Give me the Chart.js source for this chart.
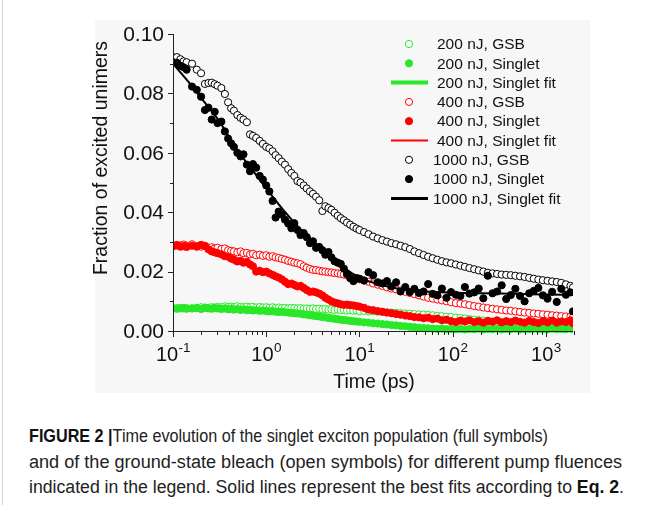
<!DOCTYPE html>
<html>
<head>
<meta charset="utf-8">
<script src="https://cdn.jsdelivr.net/npm/chart.js@4.4.0/dist/chart.umd.min.js"></script>
<style>
  html, body { margin: 0; padding: 0; background: #fff; }
  body { width: 654px; height: 505px; position: relative; overflow: hidden; }
  #frame { position: absolute; left: 2px; top: 0; width: 1px; height: 505px; background: #d4d4d4; }
  #panel { position: absolute; left: 95px; top: 20px; width: 495px; height: 373px; background: #f7f7f7; }
  #wrap { position: absolute; left: 0; top: 0; width: 654px; height: 400px; }
  #caption { position: absolute; left: 29px; top: 424px; font-family: Arial, "Liberation Sans", sans-serif;
             font-size: 18px; line-height: 25.5px; color: #222; white-space: nowrap; }
  #caption div { transform-origin: 0 50%; width: max-content; }
  #caption b { font-weight: bold; color: #111; }
</style>
</head>
<body>
<div id="frame"></div>
<div id="panel"></div>
<div id="wrap"><canvas id="chart" width="654" height="400"></canvas></div>
<div id="caption">
  <div data-w="519"><b>FIGURE 2 |</b>Time evolution of the singlet exciton population (full symbols)</div>
  <div data-w="593">and of the ground-state bleach (open symbols) for different pump fluences</div>
  <div data-w="595">indicated in the legend. Solid lines represent the best fits according to <b>Eq. 2</b>.</div>
</div>
<script>
'use strict'

// pump-probe delays (ps)
const delays = [
  0.10, 0.11, 0.12, 0.13, 0.14, 0.16, 0.18, 0.20, 0.22, 0.24, 0.26, 0.28, 0.30, 0.33, 0.36, 0.39, 0.42, 0.45, 0.49, 0.53, 0.57, 0.62, 0.67, 0.72, 0.78, 0.85, 0.92,
  1.0, 1.08, 1.17, 1.26, 1.36, 1.47, 1.59, 1.72, 1.86, 2.0, 2.16, 2.33, 2.52, 2.72, 2.94, 3.17, 3.42, 3.7, 4.0, 4.3, 4.65, 5.0, 5.4, 5.85, 6.3, 6.8, 7.35, 7.95, 8.6, 9.3,
  10, 11.2, 12.5, 14, 15.7, 17.6, 19.7, 22, 24.7, 27.6, 31, 34.7, 38.8, 43.5, 48.7, 54.5, 61, 68.4, 76.6, 85.8,
  96, 108, 121, 135, 151, 170, 190, 213, 238, 267, 299, 335, 375, 420, 470, 527, 590, 661, 740, 829, 928, 1040, 1165, 1305, 1460, 1635, 1830, 1950
];

// 200 nJ
const gsb200 = [
  0.0076, 0.0077, 0.0076, 0.0078, 0.0077, 0.0076, 0.0078, 0.0080, 0.0079, 0.0078, 0.0080, 0.0079, 0.0081, 0.0080, 0.0083, 0.0081, 0.0082, 0.0080, 0.0083, 0.0081, 0.0080, 0.0082, 0.0080, 0.0081, 0.0079, 0.0081, 0.0079,
  0.0080, 0.0078, 0.0080, 0.0078, 0.0079, 0.0077, 0.0078, 0.0076, 0.0078, 0.0077, 0.0076, 0.0077, 0.0075, 0.0076, 0.0075, 0.0076, 0.0074, 0.0075, 0.0073, 0.0074, 0.0072, 0.0073, 0.0071, 0.0072, 0.0070, 0.0071, 0.0069, 0.0070, 0.0068, 0.0069,
  0.0067, 0.0068, 0.0066, 0.0066, 0.0065, 0.0064, 0.0063, 0.0062, 0.0061, 0.0060, 0.0059, 0.0058, 0.0057, 0.0056, 0.0055, 0.0054, 0.0053, 0.0051, 0.0050, 0.0048,
  0.0047, 0.0045, 0.0044, 0.0042, 0.0040, 0.0038, 0.0037, 0.0035, 0.0034, 0.0032, 0.0031, 0.0029, 0.0028, 0.0027, 0.0025, 0.0024, 0.0023, 0.0022, 0.0021, 0.0020, 0.0019, 0.0019, 0.0018, 0.0017, 0.0017, 0.0016, 0.0015, 0.0015
];
const singlet200 = [
  0.0076, 0.0075, 0.0077, 0.0076, 0.0075, 0.0076, 0.0077, 0.0074, 0.0078, 0.0076, 0.0075, 0.0077, 0.0076, 0.0074, 0.0076, 0.0073, 0.0075, 0.0072, 0.0074, 0.0071, 0.0073, 0.0070, 0.0071, 0.0069, 0.0070, 0.0068, 0.0069,
  0.0067, 0.0066, 0.0067, 0.0065, 0.0064, 0.0065, 0.0063, 0.0062, 0.0061, 0.0060, 0.0059, 0.0058, 0.0056, 0.0055, 0.0053, 0.0052, 0.0050, 0.0049, 0.0047, 0.0046, 0.0044, 0.0043, 0.0041, 0.0040, 0.0038, 0.0037, 0.0036, 0.0034, 0.0033, 0.0032,
  0.0031, 0.0029, 0.0028, 0.0026, 0.0025, 0.0023, 0.0022, 0.0020, 0.0019, 0.0017, 0.0016, 0.0014, 0.0013, 0.0011, 0.0010, 0.0009, 0.0008, 0.0007, 0.0008, 0.0006,
  0.0007, 0.0006, 0.0007, 0.0005, 0.0007, 0.0006, 0.0008, 0.0005, 0.0007, 0.0006, 0.0008, 0.0005, 0.0007, 0.0006, 0.0008, 0.0005, 0.0007, 0.0006, 0.0008, 0.0006, 0.0007, 0.0005, 0.0008, 0.0006, 0.0007, 0.0006, 0.0008, 0.0007
];

// 400 nJ
const gsb400 = [
  0.0288, 0.0290, 0.0288, 0.0291, 0.0287, 0.0292, 0.0286, 0.0284, 0.0287, 0.0280, 0.0282, 0.0278, 0.0280, 0.0276, 0.0278, 0.0272, 0.0270, 0.0268, 0.0265, 0.0268, 0.0262, 0.0263, 0.0258, 0.0260, 0.0255, 0.0257, 0.0253,
  0.0255, 0.0250, 0.0252, 0.0248, 0.0246, 0.0243, 0.0240, 0.0236, 0.0233, 0.0230, 0.0228, 0.0225, 0.0218, 0.0213, 0.0209, 0.0206, 0.0205, 0.0203, 0.0201, 0.0200, 0.0198, 0.0197, 0.0195, 0.0194, 0.0192, 0.0190, 0.0188, 0.0184, 0.0180, 0.0177,
  0.0174, 0.0170, 0.0166, 0.0160, 0.0156, 0.0152, 0.0147, 0.0143, 0.0140, 0.0136, 0.0132, 0.0128, 0.0124, 0.0120, 0.0116, 0.0112, 0.0109, 0.0106, 0.0103, 0.0100,
  0.0097, 0.0094, 0.0092, 0.0090, 0.0087, 0.0084, 0.0082, 0.0079, 0.0077, 0.0075, 0.0073, 0.0071, 0.0069, 0.0068, 0.0066, 0.0064, 0.0062, 0.0061, 0.0059, 0.0058, 0.0056, 0.0055, 0.0053, 0.0052, 0.0050, 0.0049, 0.0048, 0.0047
];
const singlet400 = [
  0.0285, 0.0288, 0.0284, 0.0286, 0.0283, 0.0287, 0.0284, 0.0290, 0.0286, 0.0275, 0.0268, 0.0265, 0.0262, 0.0258, 0.0252, 0.0250, 0.0244, 0.0240, 0.0234, 0.0236, 0.0230, 0.0233, 0.0224, 0.0218, 0.0200, 0.0203, 0.0198,
  0.0200, 0.0194, 0.0189, 0.0184, 0.0180, 0.0174, 0.0166, 0.0158, 0.0160, 0.0155, 0.0150, 0.0152, 0.0145, 0.0138, 0.0132, 0.0133, 0.0130, 0.0126, 0.0120, 0.0112, 0.0106, 0.0100, 0.0096, 0.0093, 0.0090, 0.0088, 0.0089, 0.0087, 0.0086, 0.0084,
  0.0082, 0.0078, 0.0072, 0.0070, 0.0067, 0.0065, 0.0062, 0.0060, 0.0057, 0.0055, 0.0052, 0.0050, 0.0047, 0.0046, 0.0043, 0.0045, 0.0040, 0.0042, 0.0036, 0.0038,
  0.0033, 0.0030, 0.0035, 0.0032, 0.0036, 0.0030, 0.0033, 0.0028, 0.0034, 0.0031, 0.0036, 0.0029, 0.0033, 0.0030, 0.0035, 0.0031, 0.0028, 0.0034, 0.0030, 0.0027, 0.0033, 0.0029, 0.0035, 0.0028, 0.0032, 0.0030, 0.0036, 0.0026
];

// 1000 nJ
const gsb1000 = [
  0.0922, 0.0922, 0.0915, 0.0908, 0.0905, 0.0900, 0.0880, 0.0868, 0.0832, 0.0835, 0.0836, 0.0831, 0.0826, 0.0818, 0.0798, 0.0770, 0.0750, 0.0742, 0.0727, 0.0718, 0.0712, 0.0703, 0.0662, 0.0657, 0.0650, 0.0640, 0.0630,
  0.0620, 0.0615, 0.0605, 0.0592, 0.0582, 0.0570, 0.0560, 0.0545, 0.0532, 0.0522, 0.0505, 0.0500, 0.0490, 0.0480, 0.0470, 0.0462, 0.0452, 0.0440, 0.0404, 0.0420, 0.0414, 0.0408, 0.0398, 0.0388, 0.0380, 0.0373, 0.0365, 0.0358, 0.0351, 0.0345,
  0.0340, 0.0333, 0.0326, 0.0318, 0.0312, 0.0306, 0.0301, 0.0296, 0.0292, 0.0287, 0.0282, 0.0276, 0.0268, 0.0262, 0.0256, 0.0250, 0.0245, 0.0240, 0.0235, 0.0231,
  0.0228, 0.0224, 0.0220, 0.0216, 0.0212, 0.0208, 0.0204, 0.0200, 0.0196, 0.0194, 0.0192, 0.0190, 0.0189, 0.0188, 0.0186, 0.0184, 0.0182, 0.0179, 0.0176, 0.0173, 0.0171, 0.0169, 0.0167, 0.0165, 0.0162, 0.0157, 0.0152, 0.0147
];
const singlet1000 = [
  0.0905, 0.0903, 0.0893, 0.0888, 0.0880, 0.0823, 0.0812, 0.0789, 0.0744, 0.0752, 0.0712, 0.0738, 0.0700, 0.0705, 0.0672, 0.0648, 0.0632, 0.0620, 0.0600, 0.0588, 0.0595, 0.0560, 0.0538, 0.0562, 0.0550, 0.0522, 0.0510,
  0.0490, 0.0470, 0.0438, 0.0382, 0.0402, 0.0392, 0.0375, 0.0362, 0.0346, 0.0363, 0.0340, 0.0323, 0.0330, 0.0316, 0.0296, 0.0302, 0.0280, 0.0283, 0.0272, 0.0257, 0.0266, 0.0248, 0.0235, 0.0230, 0.0226, 0.0210, 0.0192, 0.0178, 0.0168, 0.0178,
  0.0176, 0.0170, 0.0198, 0.0188, 0.0164, 0.0160, 0.0168, 0.0150, 0.0164, 0.0133, 0.0148, 0.0131, 0.0142, 0.0128, 0.0133, 0.0158, 0.0125, 0.0120, 0.0143, 0.0112,
  0.0131, 0.0122, 0.0118, 0.0148, 0.0126, 0.0130, 0.0143, 0.0110, 0.0186, 0.0127, 0.0133, 0.0154, 0.0108, 0.0121, 0.0142, 0.0118, 0.0100, 0.0127, 0.0135, 0.0145, 0.0120, 0.0109, 0.0132, 0.0098, 0.0142, 0.0122, 0.0130, 0.0066
];

// fit curves
const fitTimes = [0.1, 0.15, 0.2, 0.3, 0.5, 0.7, 1, 1.5, 2, 3, 5, 7, 10, 15, 20, 30, 50, 100, 200, 500, 1000, 1950];
const fit200  = [0.0076, 0.0076, 0.0076, 0.0075, 0.0073, 0.0071, 0.0068, 0.0064, 0.0060, 0.0053, 0.0043, 0.0037, 0.0031, 0.0025, 0.0022, 0.0017, 0.0011, 0.0007, 0.0006, 0.0006, 0.0006, 0.0006];
const fit400  = [0.0290, 0.0287, 0.0282, 0.0265, 0.0236, 0.0215, 0.0197, 0.0176, 0.0158, 0.0134, 0.0103, 0.0089, 0.0080, 0.0068, 0.0062, 0.0053, 0.0044, 0.0036, 0.0032, 0.0031, 0.0030, 0.0030];
const fit1000 = [0.0900, 0.0835, 0.0785, 0.0715, 0.0605, 0.0545, 0.0480, 0.0410, 0.0365, 0.0310, 0.0250, 0.0210, 0.0180, 0.0160, 0.0150, 0.0140, 0.0133, 0.0129, 0.0127, 0.0125, 0.0123, 0.0122];

// axes
const yTicks = [0, 0.02, 0.04, 0.06, 0.08, 0.10];
const yMinorTicks = [0.01, 0.03, 0.05, 0.07, 0.09];
const xTicks = [0.1, 1, 10, 100, 1000];
const xExponents = ['-1', '0', '1', '2', '3'];
const xMinorTicks = [0.2, 0.3, 0.4, 0.5, 0.6, 0.7, 0.8, 0.9, 2, 3, 4, 5, 6, 7, 8, 9,
  20, 30, 40, 50, 60, 70, 80, 90, 200, 300, 400, 500, 600, 700, 800, 900, 2000];

const FONT = 'Arial, "Liberation Sans", sans-serif';
const green = 'rgb(40,232,40)';
const red = '#ff0000';
const black = '#000000';

const legendItems = [
  { label: '200 nJ, GSB', color: green, kind: 'open' },
  { label: '200 nJ, Singlet', color: green, kind: 'full' },
  { label: '200 nJ, Singlet fit', color: green, kind: 'line', width: 4 },
  { label: '400 nJ, GSB', color: red, kind: 'open' },
  { label: '400 nJ, Singlet', color: red, kind: 'full' },
  { label: '400 nJ, Singlet fit', color: red, kind: 'line', width: 2 },
  { label: '1000 nJ, GSB', color: black, kind: 'open' },
  { label: '1000 nJ, Singlet', color: black, kind: 'full' },
  { label: '1000 nJ, Singlet fit', color: black, kind: 'line', width: 3 }
];

function pts( xs, ys )
{
  return xs.map( ( t, i ) => ( { x: t, y: ys[i] } ) );
}

function openSet( ys, color, order )
{
  return { data: pts( delays, ys ), borderColor: color, backgroundColor: '#ffffff', borderWidth: 1,
           pointRadius: 3.6, showLine: false, order: order, clip: { left: 0, right: 0, top: 6, bottom: 6 } };
}

function fullSet( ys, color, order )
{
  return { data: pts( delays, ys ), borderColor: color, backgroundColor: color, borderWidth: 1,
           pointRadius: 3.6, showLine: false, order: order, clip: { left: 0, right: 0, top: 6, bottom: 6 } };
}

function fitSet( ys, color, width, order )
{
  return { data: pts( fitTimes, ys ), borderColor: color, borderWidth: width, pointRadius: 0,
           showLine: true, cubicInterpolationMode: 'monotone', order: order, clip: 0 };
}

const axesPlugin =
{
  id: 'axes',
  afterDraw( chart )
  {
    const ctx = chart.ctx;
    const a = chart.chartArea;
    const xs = chart.scales.x;
    const ys = chart.scales.y;
    ctx.save();
    ctx.strokeStyle = '#222';
    ctx.fillStyle = '#111';
    ctx.lineWidth = 1;

    // axis lines
    ctx.beginPath();
    ctx.moveTo( a.left + 0.5, a.top );
    ctx.lineTo( a.left + 0.5, a.bottom + 0.5 );
    ctx.lineTo( a.right, a.bottom + 0.5 );
    ctx.stroke();

    // tick marks
    ctx.beginPath();
    yTicks.forEach( v => { const p = Math.round( ys.getPixelForValue( v ) ) + 0.5; ctx.moveTo( a.left - 5, p ); ctx.lineTo( a.left, p ); } );
    yMinorTicks.forEach( v => { const p = Math.round( ys.getPixelForValue( v ) ) + 0.5; ctx.moveTo( a.left - 3, p ); ctx.lineTo( a.left, p ); } );
    xTicks.forEach( v => { const p = Math.round( xs.getPixelForValue( v ) ) + 0.5; ctx.moveTo( p, a.bottom ); ctx.lineTo( p, a.bottom + 6 ); } );
    xMinorTicks.forEach( v => { const p = Math.round( xs.getPixelForValue( v ) ) + 0.5; ctx.moveTo( p, a.bottom ); ctx.lineTo( p, a.bottom + 4 ); } );
    ctx.stroke();

    // y labels
    ctx.font = '21px ' + FONT;
    ctx.textAlign = 'right';
    ctx.textBaseline = 'middle';
    yTicks.forEach( v => ctx.fillText( v.toFixed( 2 ), a.left - 9, ys.getPixelForValue( v ) + 1 ) );

    // x labels 10^n
    ctx.textBaseline = 'alphabetic';
    ctx.textAlign = 'left';
    xTicks.forEach( ( v, i ) =>
    {
      ctx.font = '20px ' + FONT;
      const w1 = ctx.measureText( '10' ).width;
      ctx.font = '13.5px ' + FONT;
      const w2 = ctx.measureText( xExponents[i] ).width;
      const x0 = xs.getPixelForValue( v ) - ( w1 + w2 ) / 2;
      ctx.font = '20px ' + FONT;
      ctx.fillText( '10', x0, a.bottom + 30 );
      ctx.font = '13.5px ' + FONT;
      ctx.fillText( xExponents[i], x0 + w1 + 0.5, a.bottom + 21 );
    } );

    // axis titles
    ctx.font = '19.5px ' + FONT;
    ctx.textAlign = 'center';
    ctx.textBaseline = 'middle';
    ctx.fillText( 'Time (ps)', ( a.left + a.right ) / 2 + 1, a.bottom + 52 );
    ctx.save();
    ctx.translate( 102, 158 );
    ctx.rotate( -Math.PI / 2 );
    ctx.fillText( 'Fraction of excited unimers', 0, 0 );
    ctx.restore();

    // legend
    ctx.font = '15.5px ' + FONT;
    ctx.textAlign = 'left';
    legendItems.forEach( ( it, i ) =>
    {
      const yy = 44 + i * 19.3;
      if ( it.kind == 'line' )
      {
        ctx.strokeStyle = it.color;
        ctx.lineWidth = it.width;
        ctx.beginPath();
        ctx.moveTo( 391, yy );
        ctx.lineTo( 428, yy );
        ctx.stroke();
      }
      else
      {
        ctx.beginPath();
        ctx.arc( 409, yy, 3.6, 0, Math.PI * 2 );
        ctx.fillStyle = it.kind == 'full' ? it.color : '#ffffff';
        ctx.fill();
        ctx.strokeStyle = it.color;
        ctx.lineWidth = 1;
        ctx.stroke();
      }
      ctx.fillStyle = '#111';
      ctx.fillText( it.label, it.label.startsWith( '1000' ) ? 433 : 437, yy + 1 );
    } );

    ctx.restore();
  }
};

new Chart( document.getElementById( 'chart' ),
{
  type: 'scatter',
  data:
  {
    datasets:
    [
      fitSet( fit1000, black, 2, 0 ),
      fullSet( singlet1000, black, 1 ),
      openSet( gsb1000, black, 2 ),
      fullSet( singlet400, red, 3 ),
      fitSet( fit400, red, 2, 4 ),
      openSet( gsb400, red, 5 ),
      fullSet( singlet200, green, 6 ),
      fitSet( fit200, green, 3, 7 ),
      openSet( gsb200, green, 8 )
    ]
  },
  options:
  {
    responsive: false,
    animation: false,
    devicePixelRatio: 1,
    layout: { padding: { left: 173, right: 81, top: 34, bottom: 69 } },
    plugins: { legend: { display: false }, tooltip: { enabled: false } },
    scales:
    {
      x: { type: 'logarithmic', min: 0.1, max: 1950, display: false },
      y: { type: 'linear', min: 0, max: 0.10, display: false }
    }
  },
  plugins: [ axesPlugin ]
});

// squeeze caption lines to the narrow face of the original
document.querySelectorAll( '#caption div' ).forEach( el =>
{
  const w = el.getBoundingClientRect( ).width;
  el.style.transform = 'scaleX(' + ( Number( el.dataset.w ) / w ) + ')';
});
</script>
</body>
</html>
